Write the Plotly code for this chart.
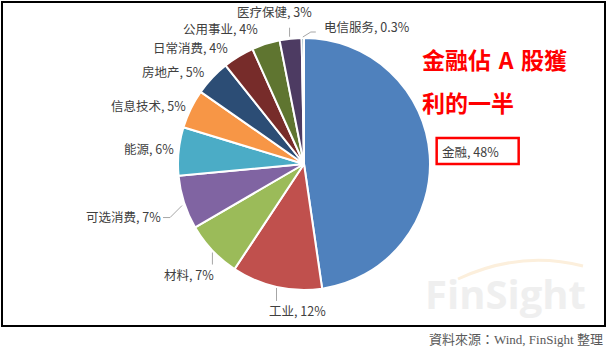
import math
import plotly.graph_objects as go

W, H = 608, 352

# ---------------- data ----------------
sectors = ["金融", "工业", "材料", "可选消费", "能源", "信息技术",
           "房地产", "日常消费", "公用事业", "医疗保健", "电信服务"]
shares = [47.7, 11.6, 7.3, 6.9, 6.2, 5.0, 4.6, 4.0, 3.6, 2.8, 0.3]
share_text = ["48%", "12%", "7%", "7%", "6%", "5%", "5%", "4%", "4%", "3%", "0.3%"]
title_lines = ["金融佔\u2004A\u2004股獲", "利的一半"]
source_note = "資料來源：Wind, FinSight 整理"
watermark = "FinSight"

# ---------------- style ----------------
colors = ["#4F81BD", "#C0504D", "#9BBB59", "#8064A2", "#4BACC6", "#F79646",
          "#2C4D75", "#772C2A", "#5F7530", "#4D3B62", "#276A7C"]
CX, CY, R = 304, 164, 126  # pie centre / radius in pixels

# label placement relative to slice edge point P: (dx, dy, xanchor, leader pts rel. to P)
label_style = {
    "金融": (11, -3, "left", None),
    "工业": (-9, 24, "left", [(0, 1), (0, 14)]),
    "材料": (3, 24, "right", [(0, 2), (0, 14)]),
    "可选消费": (-22, 14, "right", [(-2, 3), (-14, 15), (-21, 15)]),
    "能源": (-4, -3, "right", None),
    "信息技术": (-4, -3, "right", None),
    "房地产": (-6, -6, "right", None),
    "日常消费": (-10, -9, "right", None),
    "公用事业": (-7, -15, "right", None),
    "医疗保健": (-16, -27, "center", [(-1, -2), (-1, -11)]),
    "电信服务": (20, -12, "left", [(0, -1), (8, -6), (13, -6)]),
}


def fx(px):
    return px / W


def fy(py):
    return 1 - py / H


fig = go.Figure()
fig.add_trace(go.Pie(
    labels=sectors, values=shares, sort=False, direction="clockwise", rotation=0,
    marker=dict(colors=colors, line=dict(color="white", width=2)),
    textinfo="none", hoverinfo="label+percent", showlegend=False,
    domain=dict(x=[fx(CX - R), fx(CX + R)], y=[fy(CY + R), fy(CY - R)]),
))

annotations = []
shapes = []
total = sum(shares)
cum = 0.0
label_font = dict(family="Noto Sans CJK SC, sans-serif", size=12.5, color="#404040")
for name, v, t in zip(sectors, shares, share_text):
    mid = (cum + v / 2) / total * 2 * math.pi
    cum += v
    px = CX + R * math.sin(mid)
    py = CY - R * math.cos(mid)
    dx, dy, xa, leader = label_style[name]
    lx, ly = px + dx, py + dy
    annotations.append(dict(
        x=fx(lx), y=fy(ly), xref="paper", yref="paper", text=f"{name}, {t}",
        showarrow=False, xanchor=xa, yanchor="middle", font=label_font, borderpad=0,
    ))
    if leader:
        pts = [(px + a, py + b) for a, b in leader]
        path = "M " + " L ".join(f"{fx(a)},{fy(b)}" for a, b in pts)
        shapes.append(dict(type="path", xref="paper", yref="paper", path=path,
                           line=dict(color="#a6a6a6", width=1)))
    if name == "金融":
        shapes.append(dict(type="rect", xref="paper", yref="paper",
                           x0=fx(lx - 4), x1=fx(lx + 78), y0=fy(ly - 14), y1=fy(ly + 12),
                           line=dict(color="#ff0000", width=2.5)))

# title lines
for i, line in enumerate(title_lines):
    annotations.append(dict(
        x=fx(420), y=fy(59 + 43 * i), xref="paper", yref="paper", text=f"<b>{line}</b>",
        showarrow=False, xanchor="left", yanchor="middle",
        font=dict(family="Noto Sans CJK TC, sans-serif", size=23, color="#ff0000"),
    ))

# watermark
annotations.append(dict(
    x=fx(505), y=fy(293), xref="paper", yref="paper", text=f"<b>{watermark}</b>",
    showarrow=False, xanchor="center", yanchor="middle",
    font=dict(family="Open Sans, Arial, sans-serif", size=40, color="#efefef"),
))
shapes.append(dict(type="path", xref="paper", yref="paper",
                   path=f"M {fx(458)},{fy(279)} Q {fx(520)},{fy(250)} {fx(583)},{fy(266)}",
                   line=dict(color="#fcefdc", width=3)))

# source note
annotations.append(dict(
    x=fx(605), y=fy(339), xref="paper", yref="paper", text=source_note,
    showarrow=False, xanchor="right", yanchor="middle",
    font=dict(family="Liberation Serif, Noto Sans CJK TC, serif", size=13, color="#595959"),
))

# outer border
shapes.append(dict(type="rect", xref="paper", yref="paper",
                   x0=fx(2), x1=fx(605), y0=fy(326), y1=fy(2),
                   line=dict(color="black", width=2)))

fig.update_layout(
    width=W, height=H, margin=dict(l=0, r=0, t=0, b=0),
    paper_bgcolor="white", plot_bgcolor="white",
    annotations=annotations, shapes=shapes,
)
fig.write_html("out.html")
